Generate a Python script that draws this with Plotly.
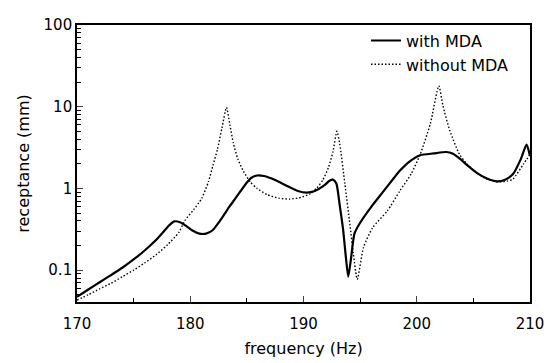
import plotly.graph_objects as go

# with MDA (solid)
freq_with = [170, 171, 172, 173, 174, 175, 176, 177, 177.6, 178.1, 178.6, 179.1, 179.6, 180.2,
             180.8, 181.4, 182, 182.5, 183, 183.5, 184, 184.5, 185, 185.4, 185.9, 186.5,
             187.5, 188.5, 189.5, 190.3, 191, 191.8, 192.3, 192.6, 192.9, 193.2, 193.5,
             193.75, 193.95, 194.2, 194.5, 195, 196, 197, 198, 198.5, 199.3, 200.3, 201.5,
             202.6, 203.2, 203.8, 204.5, 205.3, 206.2, 207.1, 207.8, 208.5, 209.2, 209.7, 210]
rec_with = [0.047, 0.058, 0.071, 0.087, 0.107, 0.135, 0.175, 0.235, 0.29, 0.35, 0.395, 0.385,
            0.35, 0.305, 0.28, 0.28, 0.31, 0.38, 0.48, 0.61, 0.76, 0.95, 1.18, 1.35, 1.44,
            1.42, 1.27, 1.08, 0.93, 0.89, 0.93, 1.08, 1.24, 1.28, 1.15, 0.62, 0.31, 0.14,
            0.083, 0.14, 0.28, 0.38, 0.6, 0.9, 1.35, 1.64, 2.1, 2.55, 2.68, 2.79, 2.65, 2.31,
            1.9, 1.55, 1.32, 1.22, 1.28, 1.5, 2.3, 3.45, 2.5]

# without MDA (dotted)
freq_without = [170, 171, 172, 173, 174, 175, 176, 177, 178, 179, 179.5, 180.3, 181, 181.6,
                182, 182.4, 182.8, 183.2, 183.5, 183.8, 184.2, 184.7, 185.3, 185.9, 186.8,
                187.8, 188.8, 189.8, 190.6, 191.2, 191.7, 192.2, 192.6, 192.95, 193.2,
                193.65, 194.1, 194.4, 194.75, 195.3, 196.1, 197.4, 198.5, 199.5, 200.3,
                201.2, 201.95, 202.3, 202.9, 203.8, 204.5, 205.3, 206.2, 207.1, 208, 208.5,
                209.4, 210]
rec_without = [0.043, 0.05, 0.059, 0.069, 0.083, 0.1, 0.123, 0.155, 0.205, 0.29, 0.40, 0.55,
               0.75, 1.2, 1.9, 3.0, 5.5, 9.8, 6.0, 3.6, 2.3, 1.62, 1.2, 1.0, 0.84, 0.76,
               0.74, 0.78, 0.86, 1.02, 1.26, 1.8, 2.8, 5.0, 3.5, 1.15, 0.36, 0.16, 0.077,
               0.19, 0.33, 0.53, 0.93, 1.5, 2.6, 6.2, 18, 10.5, 5.2, 2.57, 1.95, 1.55, 1.3,
               1.2, 1.23, 1.3, 1.97, 2.6]

x_ticks = [170, 180, 190, 200, 210]
y_ticks = [0.1, 1, 10, 100]
y_ticktext = ["0.1", "1", "10", "100"]
y_minor = [m * d for d in (0.01, 0.1, 1, 10) for m in range(2, 10)]

FONT = "DejaVu Sans"

fig = go.Figure()
fig.add_trace(go.Scatter(x=freq_with, y=rec_with, mode="lines", name="with MDA",
                         line=dict(color="black", width=2.2, shape="spline", smoothing=0.6)))
fig.add_trace(go.Scatter(x=freq_without, y=rec_without, mode="lines", name="without MDA",
                         line=dict(color="black", width=1.4, dash="1.5px,2px", shape="spline", smoothing=0.6)))

fig.update_layout(
    width=548, height=355,
    margin=dict(l=69, r=26, t=8, b=54),
    paper_bgcolor="white", plot_bgcolor="white",
    font=dict(family=FONT, size=15, color="black"),
    showlegend=True,
    legend=dict(x=0.638, y=1.005, xanchor="left", yanchor="top",
                bgcolor="rgba(0,0,0,0)", font=dict(size=16, family=FONT),
                tracegroupgap=0),
    xaxis=dict(range=[170, 210], tickvals=x_ticks, ticks="inside", ticklen=6,
               tickwidth=1.2, showgrid=False, zeroline=False, showline=True,
               linewidth=1.6, linecolor="black", mirror=True, ticklabelstandoff=7,
               minor=dict(dtick=5, ticks="inside", ticklen=4, tickwidth=1.2, tickcolor="black", showgrid=False),
               title=dict(text="frequency (Hz)", font=dict(size=16, family=FONT), standoff=11)),
    yaxis=dict(type="log", range=[-1.39, 2.0], tickvals=y_ticks, ticktext=y_ticktext,
               ticks="inside", ticklen=6, tickwidth=1.2, showgrid=False, zeroline=False,
               showline=True, linewidth=1.6, linecolor="black", mirror=True,
               minor=dict(tickvals=y_minor, ticks="inside", ticklen=4, tickwidth=1, tickcolor="black", showgrid=False),
               title=dict(text="receptance (mm)", font=dict(size=16, family=FONT), standoff=10)),
)

fig.write_html("out.html")
